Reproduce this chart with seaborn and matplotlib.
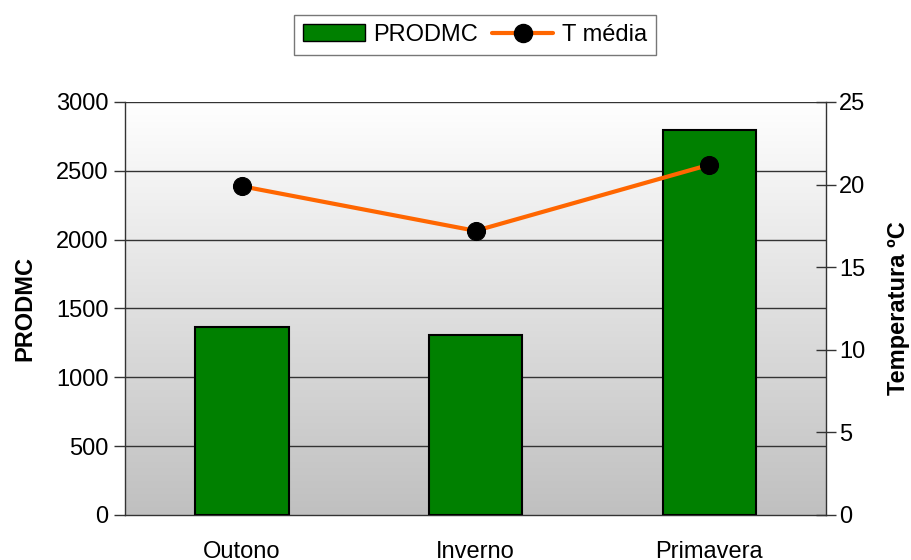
import numpy as np
import pandas as pd
import matplotlib
matplotlib.use("Agg")
import matplotlib.pyplot as plt
import seaborn as sns
from matplotlib.lines import Line2D
from matplotlib.patches import Patch
from matplotlib.colors import LinearSegmentedColormap

categories = ["Outono", "Inverno", "Primavera"]
prodmc = [1365, 1310, 2800]
t_media = [19.9, 17.2, 21.2]

sns.set_style("white")
plt.rcParams["font.family"] = ["Liberation Sans", "DejaVu Sans"]
plt.rcParams["text.color"] = "black"
plt.rcParams["axes.labelcolor"] = "black"
plt.rcParams["xtick.color"] = "black"
plt.rcParams["ytick.color"] = "black"

df = pd.DataFrame({"Estacao": categories, "PRODMC": prodmc, "T": t_media})

fig = plt.figure(figsize=(9.12, 5.6), dpi=100)
ax = fig.add_axes([0.137, 0.0804, 0.769, 0.7375])

# gradient background
grad = np.linspace(0, 1, 256).reshape(-1, 1)
cmap = LinearSegmentedColormap.from_list("g", ["#ffffff", "#c0c0c0"])
ax.imshow(grad, extent=[0, 1, 0, 1], transform=ax.transAxes, cmap=cmap,
          aspect="auto", zorder=0, origin="upper")

sns.barplot(data=df, x="Estacao", y="PRODMC", ax=ax, color="#008000",
            width=0.4, edgecolor="black", linewidth=1.5, saturation=1, zorder=3)
ax.set_xlim(-0.5, 2.5)
ax.set_ylim(0, 3000)
ax.set_yticks(range(0, 3001, 500))
for yv in range(500, 3001, 500):
    ax.axhline(yv, color="#333333", linewidth=1, zorder=1)
ax.set_xticks([0.5, 1.5, 2.5], minor=False)
ax.set_xticks([0, 1, 2], minor=True)
ax.set_xticklabels([])
ax.set_xticklabels(categories, minor=True)
ax.tick_params(axis="x", which="major", direction="inout", length=14, width=1, color="#333333")
ax.tick_params(axis="x", which="minor", length=0, labelsize=17, pad=19, labelcolor="black")
ax.tick_params(axis="y", direction="out", length=8, width=1, color="#333333", labelsize=17, pad=4,
               labelcolor="black")
ax.set_xlabel("")
ax.set_ylabel("PRODMC", fontsize=17, fontweight="bold", labelpad=14, color="black")
for s in ["top", "right"]:
    ax.spines[s].set_visible(False)
for s in ["left", "bottom"]:
    ax.spines[s].set_color("#333333")
    ax.spines[s].set_linewidth(1)

ax2 = ax.twinx()
sns.lineplot(x=[0, 1, 2], y=df["T"].values, ax=ax2, color="#ff6600", linewidth=3,
             marker="o", markersize=13, markerfacecolor="black", markeredgecolor="black",
             zorder=5)
ax2.set_ylim(0, 25)
ax2.set_yticks(range(0, 26, 5))
ax2.tick_params(axis="y", direction="inout", length=14, width=1, color="#333333", labelsize=17, pad=2,
                labelcolor="black")
ax2.set_ylabel("Temperatura ºC", fontsize=17, fontweight="bold", labelpad=16, color="black")
for s in ["top", "left", "bottom"]:
    ax2.spines[s].set_visible(False)
ax2.spines["right"].set_color("#333333")
ax2.spines["right"].set_linewidth(1)

handles = [Patch(facecolor="#008000", edgecolor="black", linewidth=1),
           Line2D([0], [0], color="#ff6600", linewidth=3, marker="o", markersize=13,
                  markerfacecolor="black", markeredgecolor="black")]
leg = fig.legend(handles, ["PRODMC", "T média"], loc="center", bbox_to_anchor=(0.521, 0.9375),
                 ncol=2, fontsize=17, frameon=True, fancybox=False, edgecolor="#555555",
                 handlelength=2.6, handletextpad=0.35, columnspacing=0.6, borderpad=0.4)
leg.get_frame().set_linewidth(1)
for t in leg.get_texts():
    t.set_color("black")

fig.savefig("out.png", dpi=100)
